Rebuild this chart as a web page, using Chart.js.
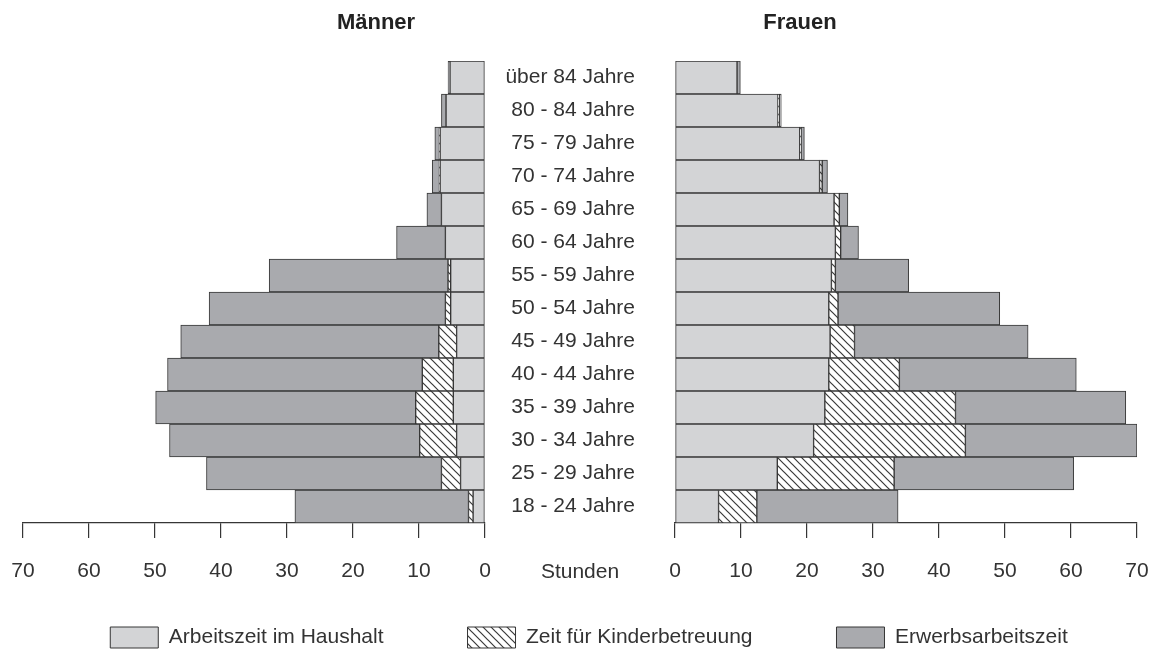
<!DOCTYPE html>
<html>
<head>
<meta charset="utf-8">
<script src="https://cdn.jsdelivr.net/npm/chart.js@4.4.1/dist/chart.umd.min.js"></script>
<style>
html,body{margin:0;padding:0;background:#fff;overflow:hidden;}
#wrap{position:relative;width:1155px;height:650px;overflow:hidden;background:#fff;}
#men{position:absolute;left:0;top:0;width:1155px;height:720px;}
#women{position:absolute;left:0;top:0;width:1155px;height:650px;}
</style>
</head>
<body>
<div id="wrap">
<canvas id="men" width="1155" height="720"></canvas>
<canvas id="women" width="1155" height="650"></canvas>
</div>
<script>
// ---- data ----
const categories = ["über 84 Jahre","80 - 84 Jahre","75 - 79 Jahre","70 - 74 Jahre","65 - 69 Jahre","60 - 64 Jahre","55 - 59 Jahre","50 - 54 Jahre","45 - 49 Jahre","40 - 44 Jahre","35 - 39 Jahre","30 - 34 Jahre","25 - 29 Jahre","18 - 24 Jahre"];
const hourTicks = [0,10,20,30,40,50,60,70];
const seriesNames = ["Arbeitszeit im Haushalt","Zeit für Kinderbetreuung","Erwerbsarbeitszeit"];
const panelTitles = ["Männer","Frauen"];
const axisTitle = "Stunden";

const menHaushalt = [5.3, 5.9, 6.8, 6.8, 6.6, 6.0, 5.2, 5.2, 4.3, 4.8, 4.8, 4.3, 3.7, 1.8];
const menKinder   = [0.0, 0.0, 0.1, 0.1, 0.0, 0.0, 0.4, 0.8, 2.7, 4.7, 5.7, 5.6, 2.9, 0.7];
const menErwerb   = [0.3, 0.7, 0.7, 1.1, 2.2, 7.4, 27.1, 35.8, 39.1, 38.6, 39.4, 37.9, 35.6, 26.3];

const womenHaushalt = [9.4, 15.6, 18.9, 21.9, 24.1, 24.3, 23.7, 23.3, 23.5, 23.3, 22.7, 21.0, 15.5, 6.6];
const womenKinder   = [0.0, 0.2, 0.2, 0.4, 0.8, 0.8, 0.6, 1.4, 3.7, 10.7, 19.8, 23.0, 17.7, 5.8];
const womenErwerb   = [0.5, 0.3, 0.5, 0.8, 1.3, 2.7, 11.1, 24.5, 26.3, 26.8, 25.8, 26.0, 27.2, 21.4];

// ---- styling / layout ----
const FONT = "'Liberation Sans', Arial, Helvetica, sans-serif";
Chart.defaults.font.family = FONT;
Chart.defaults.color = '#333';
const AREA_TOP = 61, AREA_BOTTOM = 523;
const MEN_RIGHT = 485, WOMEN_LEFT = 675;
const LEGEND_PAD = 84, LEGEND_BOX_TOP = 627;
const LINE = '#363636';

function makeHatch(ctx){
  const c = document.createElement('canvas'); c.width = 8; c.height = 8;
  const x = c.getContext('2d');
  x.fillStyle = '#fff'; x.fillRect(0,0,8,8);
  x.strokeStyle = '#3a3a3a'; x.lineWidth = 1.2;
  x.beginPath();
  x.moveTo(-2,-2); x.lineTo(10,10);
  x.moveTo(-2,6); x.lineTo(2,10);
  x.moveTo(6,-2); x.lineTo(10,2);
  x.stroke();
  return ctx.createPattern(c,'repeat');
}

function buildDatasets(h,k,e,hatch){
  return [
    {label: seriesNames[0], data: h, backgroundColor: '#d3d4d6'},
    {label: seriesNames[1], data: k, backgroundColor: hatch},
    {label: seriesNames[2], data: e, backgroundColor: '#a9aaae'}
  ].map(d => Object.assign(d, {borderColor: LINE, borderWidth: 1, borderSkipped: false, barPercentage: 1, categoryPercentage: 1}));
}

function xAxis(reverse, padBottom){
  return {
    type: 'linear', stacked: true, min: 0, max: 70, reverse: reverse,
    afterBuildTicks: s => { s.ticks = hourTicks.map(v => ({value: v})); },
    afterFit: s => {
      const c = s.chart;
      const lg = (c.options.plugins.legend.display && c.legend) ? c.legend.height : 0;
      s.height = Math.max(1, c.height - AREA_BOTTOM - lg - padBottom);
      s.paddingLeft = 0; s.paddingRight = 0;
    },
    grid: {drawOnChartArea: false, drawTicks: true, tickLength: 15, color: LINE, lineWidth: 1.2},
    border: {display: true, color: LINE, width: 1.2},
    ticks: {padding: 21, color: '#333', font: {size: 21}, maxRotation: 0, minRotation: 0, autoSkip: false}
  };
}

// move the legend row up to its place under the axis labels
const legendPlace = {
  id: 'legendPlace',
  afterLayout(chart){
    const lg = chart.legend;
    if (!lg) return;
    const dy = (LEGEND_BOX_TOP - LEGEND_PAD) - lg.top;
    lg.top += dy; lg.bottom += dy;
  }
};

const textPlugin = {
  id: 'extraText',
  afterDraw(chart){
    const ctx = chart.ctx, a = chart.chartArea;
    ctx.save();
    ctx.textAlign = 'center'; ctx.textBaseline = 'middle';
    ctx.fillStyle = '#222';
    ctx.font = "bold 22px " + FONT;
    ctx.fillText(panelTitles[0], a.left - 299, 23);
    ctx.fillText(panelTitles[1], a.left + 125, 23);
    ctx.fillStyle = '#333';
    ctx.font = "21px " + FONT;
    ctx.fillText(axisTitle, a.left - 95, 572);
    ctx.restore();
  }
};

const menCanvas = document.getElementById('men');
const womenCanvas = document.getElementById('women');

new Chart(menCanvas, {
  type: 'bar',
  data: {labels: categories, datasets: buildDatasets(menHaushalt, menKinder, menErwerb, makeHatch(menCanvas.getContext('2d')))},
  options: {
    indexAxis: 'y', responsive: false, animation: false,
    layout: {padding: {left: 23, right: 0, top: AREA_TOP, bottom: 2}},
    scales: {
      x: xAxis(true, 2),
      y: {stacked: true, position: 'right',
        grid: {display: false}, border: {display: false}, ticks: {display: false},
        afterFit: s => { s.width = s.chart.width - MEN_RIGHT; }}
    },
    plugins: {
      tooltip: {enabled: false},
      legend: {display: true, position: 'bottom', align: 'center',
        labels: {boxWidth: 48, boxHeight: 21, padding: LEGEND_PAD, color: '#333', font: {size: 21}}}
    }
  },
  plugins: [legendPlace]
});

new Chart(womenCanvas, {
  type: 'bar',
  data: {labels: categories, datasets: buildDatasets(womenHaushalt, womenKinder, womenErwerb, makeHatch(womenCanvas.getContext('2d')))},
  options: {
    indexAxis: 'y', responsive: false, animation: false,
    layout: {padding: {left: 0, right: 18, top: AREA_TOP, bottom: 0}},
    scales: {
      x: xAxis(false, 0),
      y: {stacked: true, position: 'left',
        grid: {display: false}, border: {display: false},
        ticks: {padding: 32, color: '#333', font: {size: 21}},
        afterFit: s => { s.width = WOMEN_LEFT; }}
    },
    plugins: {
      tooltip: {enabled: false},
      legend: {display: false}
    }
  },
  plugins: [textPlugin]
});
</script>
</body>
</html>
